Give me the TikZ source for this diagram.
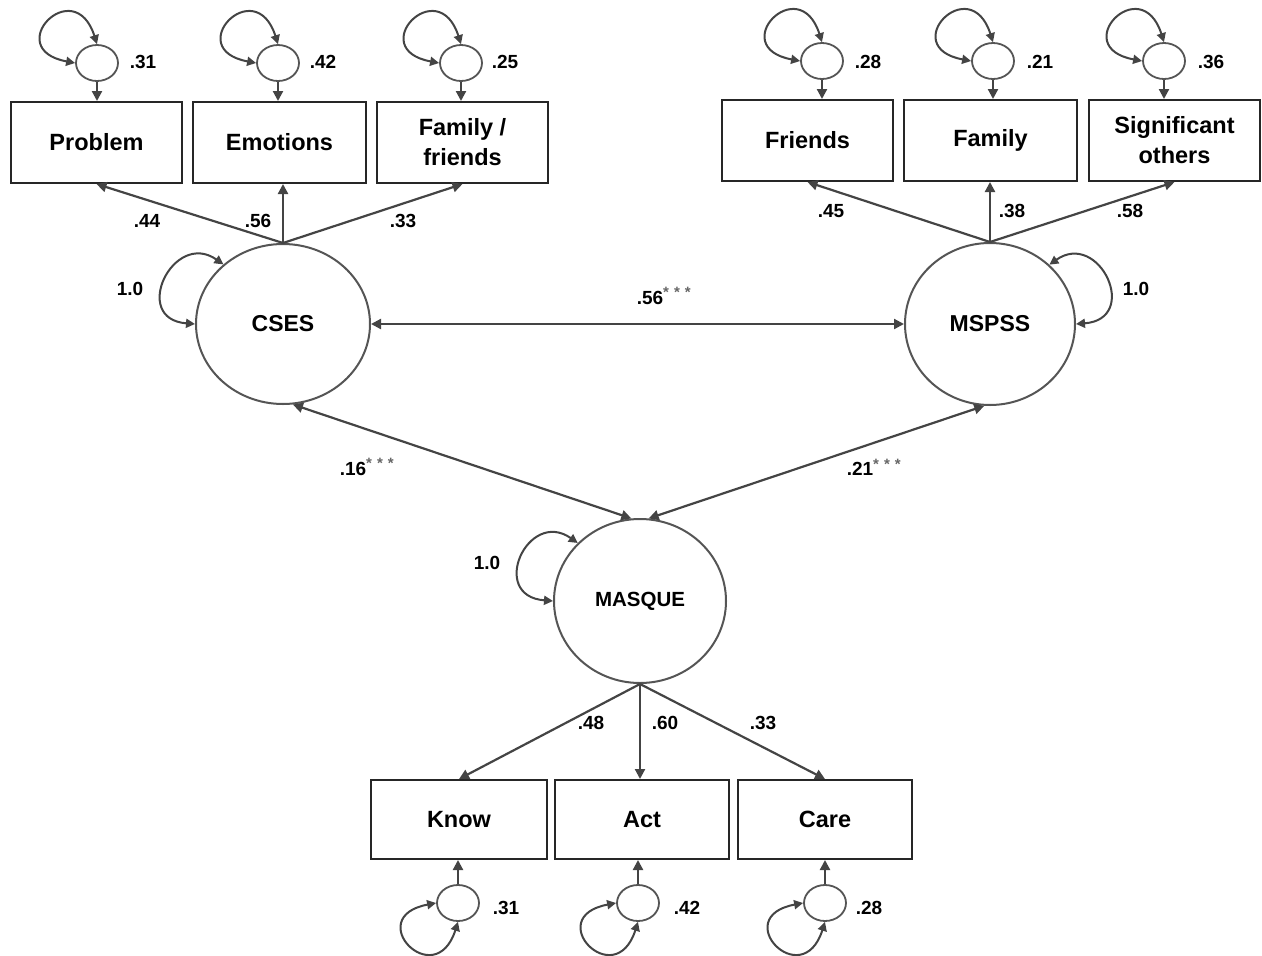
\documentclass[tikz,border=0pt]{standalone}
\usepackage{fontspec}
\setmainfont{Liberation Sans}
\usetikzlibrary{arrows.meta,shapes.geometric}
\definecolor{lc}{HTML}{444444}
\definecolor{cc}{HTML}{555555}
\begin{document}
\begin{tikzpicture}[x=1pt,y=-1pt,
 box/.style={draw=black!85,line width=2pt,minimum width=171pt,minimum height=81pt,align=center,inner sep=0pt,font=\bfseries\fontsize{23.5}{30}\selectfont},
 err/.style={ellipse,draw=cc,line width=1.8pt,minimum width=42pt,minimum height=36pt,inner sep=0pt},
 lat/.style={ellipse,draw=cc,line width=2pt,inner sep=0pt,font=\bfseries\fontsize{23}{25}\selectfont},
 lbl/.style={font=\bfseries\fontsize{19}{21}\selectfont,inner sep=0pt},
 arr/.style={draw=lc,line width=2.2pt,-{Triangle[length=10pt,width=10pt]}},
 dbl/.style={draw=lc,line width=2.2pt,{Triangle[length=10pt,width=10pt]}-{Triangle[length=10pt,width=10pt]}},
 lp/.style={draw=lc,line width=2pt,{Triangle[length=9pt,width=9pt]}-{Triangle[length=9pt,width=9pt]}},
]
\useasboundingbox (0,0) rectangle (1262,956);
\newcommand{\mystars}{\textsuperscript{\color{black!60}\fontsize{15}{15}\selectfont *\,\,*\,\,*}}

% indicator boxes
\node[box] (prob) at (96.5,142.5) {Problem};
\node[box,minimum width=173pt] (emo) at (279.5,142.5) {Emotions};
\node[box] (famf) at (462.5,142.5) {Family /\\friends};
\node[box] (fri) at (807.5,140.5) {Friends};
\node[box,minimum width=173pt] (fam) at (990.5,140.5) {Family};
\node[box] (sig) at (1174.5,140.5) {Significant\\others};
\node[box,minimum width=176pt,minimum height=79pt] (know) at (459,819.5) {Know};
\node[box,minimum width=174pt,minimum height=79pt] (act) at (642,819.5) {Act};
\node[box,minimum width=174pt,minimum height=79pt] (care) at (825,819.5) {Care};

% error terms
\node[err] (e1) at (97,63) {};
\node[err] (e2) at (278,63) {};
\node[err] (e3) at (461,63) {};
\node[err] (e4) at (822,61) {};
\node[err] (e5) at (993,61) {};
\node[err] (e6) at (1164,61) {};
\node[err] (e7) at (458,903) {};
\node[err] (e8) at (638,903) {};
\node[err] (e9) at (825,903) {};

% latent variables
\node[lat,minimum width=174pt,minimum height=160pt] (cses) at (283,324) {CSES};
\node[lat,minimum width=170pt,minimum height=162pt] (mspss) at (990,324) {MSPSS};
\node[lat,minimum width=172pt,minimum height=164pt,font=\bfseries\fontsize{20.5}{22}\selectfont] (masque) at (640,601) {MASQUE};

% error arrows
\foreach \e/\b in {e1/prob,e2/emo,e3/famf,e4/fri,e5/fam,e6/sig}{
  \draw[arr] (\e.south) -- (\e.south |- \b.north);
  \draw[lp] (\e.west) .. controls +(-75,-14) and +(-23,-72) .. (\e.north);
}
\foreach \e/\b in {e7/know,e8/act,e9/care}{
  \draw[arr] (\e.north) -- (\e.north |- \b.south);
  \draw[lp] (\e.west) .. controls +(-75,14) and +(-23,72) .. (\e.south);
}

% loadings
\draw[arr] (cses.north) -- (prob.south);
\draw[arr] (cses.north) -- (cses.north |- emo.south);
\draw[arr] (cses.north) -- (famf.south);
\draw[arr] (mspss.north) -- (fri.south);
\draw[arr] (mspss.north) -- (mspss.north |- fam.south);
\draw[arr] (mspss.north) -- (sig.south);
\draw[arr] (masque.south) -- (know.north);
\draw[arr] (masque.south) -- (masque.south |- act.north);
\draw[arr] (masque.south) -- (care.north);

% covariances
\draw[dbl] (cses) -- (mspss);
\draw[dbl] (cses.277) -- (masque.96);
\draw[dbl] (mspss.266) -- (masque.84);

% variance loops
\draw[lp] (cses.west) .. controls +(-65,-5) and +(-50,-35) .. (cses.135);
\draw[lp] (mspss.east) .. controls +(65,-5) and +(50,-35) .. (mspss.45);
\draw[lp] (masque.west) .. controls +(-65,-5) and +(-50,-35) .. (masque.137);

% labels
\node[lbl] (v1) at (143,62) {.31};
\node[lbl] (v2) at (323,62) {.42};
\node[lbl] (v3) at (505,62) {.25};
\node[lbl] (v4) at (868,62) {.28};
\node[lbl] (v5) at (1040,62) {.21};
\node[lbl] (v6) at (1211,62) {.36};
\node[lbl] (v7) at (506,908) {.31};
\node[lbl] (v8) at (687,908) {.42};
\node[lbl] (v9) at (869,908) {.28};
\node[lbl] (w1) at (147,221) {.44};
\node[lbl] (w2) at (258,221) {.56};
\node[lbl] (w3) at (403,221) {.33};
\node[lbl] (w4) at (831,211) {.45};
\node[lbl] (w5) at (1012,211) {.38};
\node[lbl] (w6) at (1130,211) {.58};
\node[lbl] (w7) at (591,723) {.48};
\node[lbl] (w8) at (665,723) {.60};
\node[lbl] (w9) at (763,723) {.33};
\node[lbl] (u1) at (130,289) {1.0};
\node[lbl] (u2) at (1136,289) {1.0};
\node[lbl] (u3) at (487,563) {1.0};
\node[lbl] (c1) at (664,296) {.56\mystars};
\node[lbl] (c2) at (367,467) {.16\mystars};
\node[lbl] (c3) at (874,467) {.21\mystars};
\end{tikzpicture}
\end{document}
